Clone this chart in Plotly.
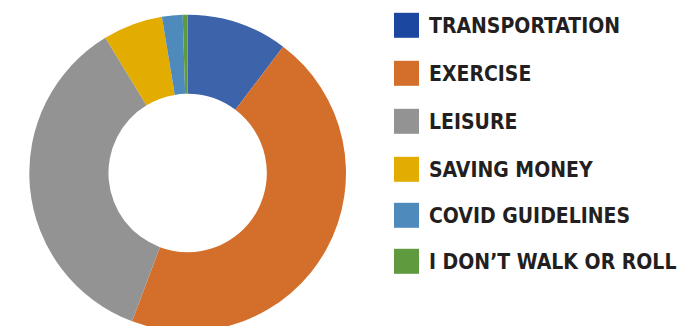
import plotly.graph_objects as go

labels = ["TRANSPORTATION", "EXERCISE", "LEISURE", "SAVING MONEY", "COVID GUIDELINES", "I DON’T WALK OR ROLL"]
values = [10.3, 45.4, 35.6, 6.1, 2.1, 0.5]
slice_colors = ["#3d64ab", "#d46f2b", "#939393", "#e3ac00", "#4f8abd", "#5f9a3f"]
legend_colors = ["#1c47a0", "#d46f2b", "#939393", "#e3ac00", "#4f8abd", "#5f9a3f"]

W, H = 679, 346

fig = go.Figure()
fig.add_trace(go.Pie(
    labels=labels, values=values, hole=0.5, sort=False, direction="clockwise",
    rotation=0, marker=dict(colors=slice_colors, line=dict(width=0)),
    textinfo="none", hoverinfo="label+percent", showlegend=False,
    domain=dict(x=[29.3 / W, 346 / W], y=[0, 1]),
))

row_y = [25.3, 73.3, 121.3, 169.3, 215.3, 261.3]
shapes, annotations = [], []
for lab, col, yp in zip(labels, legend_colors, row_y):
    shapes.append(dict(type="rect", xref="paper", yref="paper",
                       x0=394 / W, x1=419 / W, y0=1 - (yp + 12.5) / H, y1=1 - (yp - 12.5) / H,
                       fillcolor=col, line=dict(width=0)))
    annotations.append(dict(text=lab, xref="paper", yref="paper", x=427 / W, y=1 - (yp + 1) / H,
                            xanchor="left", yanchor="middle", showarrow=False,
                            font=dict(family="DejaVu Sans Condensed, Liberation Sans Narrow, sans-serif",
                                      size=21, color="#231f20", weight="bold")))

fig.update_layout(width=W, height=H, autosize=False, margin=dict(l=0, r=0, t=0, b=0),
                  paper_bgcolor="white", plot_bgcolor="white",
                  shapes=shapes, annotations=annotations)

fig.write_html("out.html", config={"displayModeBar": False},
               post_script="document.body.style.margin='0';document.body.style.overflow='hidden';document.documentElement.style.overflow='hidden';")
